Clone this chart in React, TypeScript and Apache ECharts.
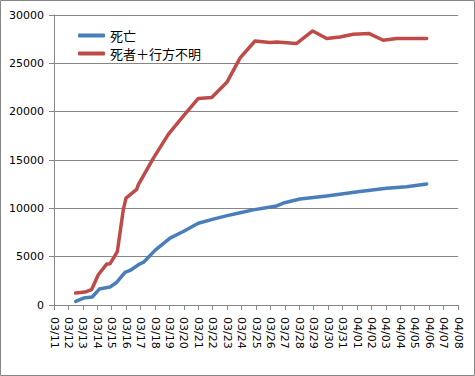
import React, { useEffect, useRef } from "react";
import * as echarts from "echarts";

const dateLabels = [
  "03/11", "03/12", "03/13", "03/14", "03/15", "03/16", "03/17", "03/18", "03/19", "03/20",
  "03/21", "03/22", "03/23", "03/24", "03/25", "03/26", "03/27", "03/28", "03/29", "03/30",
  "03/31", "04/01", "04/02", "04/03", "04/04", "04/05", "04/06", "04/07", "04/08",
];

const yTicks = [0, 5000, 10000, 15000, 20000, 25000, 30000];

// days after 03/11 00:00
const deathDays = [1.5, 2.05, 2.65, 3.14, 3.88, 4.34, 4.92, 5.27, 5.96, 6.19, 7.0, 8.04, 8.96, 10.0, 11.04, 12.0, 12.9, 13.8, 15.43, 15.9, 17.05, 18.9, 21.2, 23.05, 24.44, 25.83];
const deathValues = [370, 720, 830, 1650, 1860, 2330, 3370, 3570, 4260, 4400, 5650, 6920, 7600, 8460, 8880, 9250, 9550, 9840, 10250, 10550, 10970, 11280, 11730, 12080, 12240, 12520];

const totalDays = [1.5, 2.15, 2.6, 3.07, 3.65, 3.88, 4.39, 4.8, 4.99, 5.73, 5.84, 6.88, 7.92, 8.96, 10.0, 10.93, 12.0, 12.9, 13.93, 14.97, 15.43, 16.8, 17.93, 18.9, 19.82, 20.74, 21.85, 22.82, 23.75, 25.83];
const totalValues = [1240, 1340, 1580, 3130, 4230, 4260, 5530, 9840, 11050, 11970, 12420, 15170, 17650, 19540, 21370, 21470, 23080, 25560, 27310, 27150, 27210, 27050, 28350, 27560, 27730, 28010, 28080, 27390, 27560, 27560];

const seriesNames = ["死亡", "死者＋行方不明"];
const seriesColors = ["#4A7EBB", "#BE4B48"];

export default function App() {
  const ref = useRef<HTMLDivElement>(null);
  useEffect(() => {
    if (!ref.current) return;
    const chart = echarts.init(ref.current, null, { renderer: "svg" });
    const font = "DejaVu Sans";
    chart.setOption({
      animation: false,
      backgroundColor: "#ffffff",
      textStyle: { fontFamily: font },
      graphic: [
        {
          type: "rect",
          shape: { x: 0.5, y: 0.5, width: 474, height: 375 },
          style: { fill: "none", stroke: "#868686", lineWidth: 1 },
          silent: true,
        },
      ],
      grid: { left: 54, right: 17, top: 15, bottom: 71, containLabel: false },
      legend: {
        orient: "vertical",
        left: 73,
        top: 24,
        itemGap: 5,
        itemWidth: 27,
        itemHeight: 4,
        icon: "roundRect",
        textStyle: { fontSize: 13, color: "#000", fontFamily: "Noto Sans CJK JP" },
        data: seriesNames,
      },
      xAxis: {
        type: "value",
        min: 0,
        max: dateLabels.length - 1,
        interval: 1,
        axisLine: { show: true, lineStyle: { color: "#868686", width: 1 } },
        axisTick: { show: true, length: 5, lineStyle: { color: "#868686" } },
        splitLine: { show: false },
        axisLabel: {
          rotate: -90,
          margin: 12,
          fontSize: 11,
          color: "#000",
          fontFamily: font,
          formatter: (v: number) => dateLabels[Math.round(v)] ?? "",
        },
      },
      yAxis: {
        type: "value",
        min: yTicks[0],
        max: yTicks[yTicks.length - 1],
        interval: 5000,
        axisLine: { show: true, lineStyle: { color: "#868686", width: 1 } },
        axisTick: { show: true, length: 5, lineStyle: { color: "#868686" } },
        splitLine: { show: true, lineStyle: { color: "#868686", width: 1 } },
        axisLabel: {
          margin: 10,
          fontSize: 11,
          color: "#000",
          fontFamily: font,
          formatter: (v: number) => String(v),
        },
      },
      series: [
        {
          name: seriesNames[0],
          type: "line",
          data: deathDays.map((d, i) => [d, deathValues[i]]),
          showSymbol: false,
          symbol: "none",
          color: seriesColors[0],
          lineStyle: { width: 3.5, color: seriesColors[0], cap: "round", join: "round" },
          z: 3,
        },
        {
          name: seriesNames[1],
          type: "line",
          data: totalDays.map((d, i) => [d, totalValues[i]]),
          showSymbol: false,
          symbol: "none",
          color: seriesColors[1],
          lineStyle: { width: 3.5, color: seriesColors[1], cap: "round", join: "round" },
          z: 2,
        },
      ],
    });
    return () => chart.dispose();
  }, []);
  return (
    <div
      ref={ref}
      style={{ position: "fixed", left: 0, top: 0, width: 475, height: 376 }}
    />
  );
}
